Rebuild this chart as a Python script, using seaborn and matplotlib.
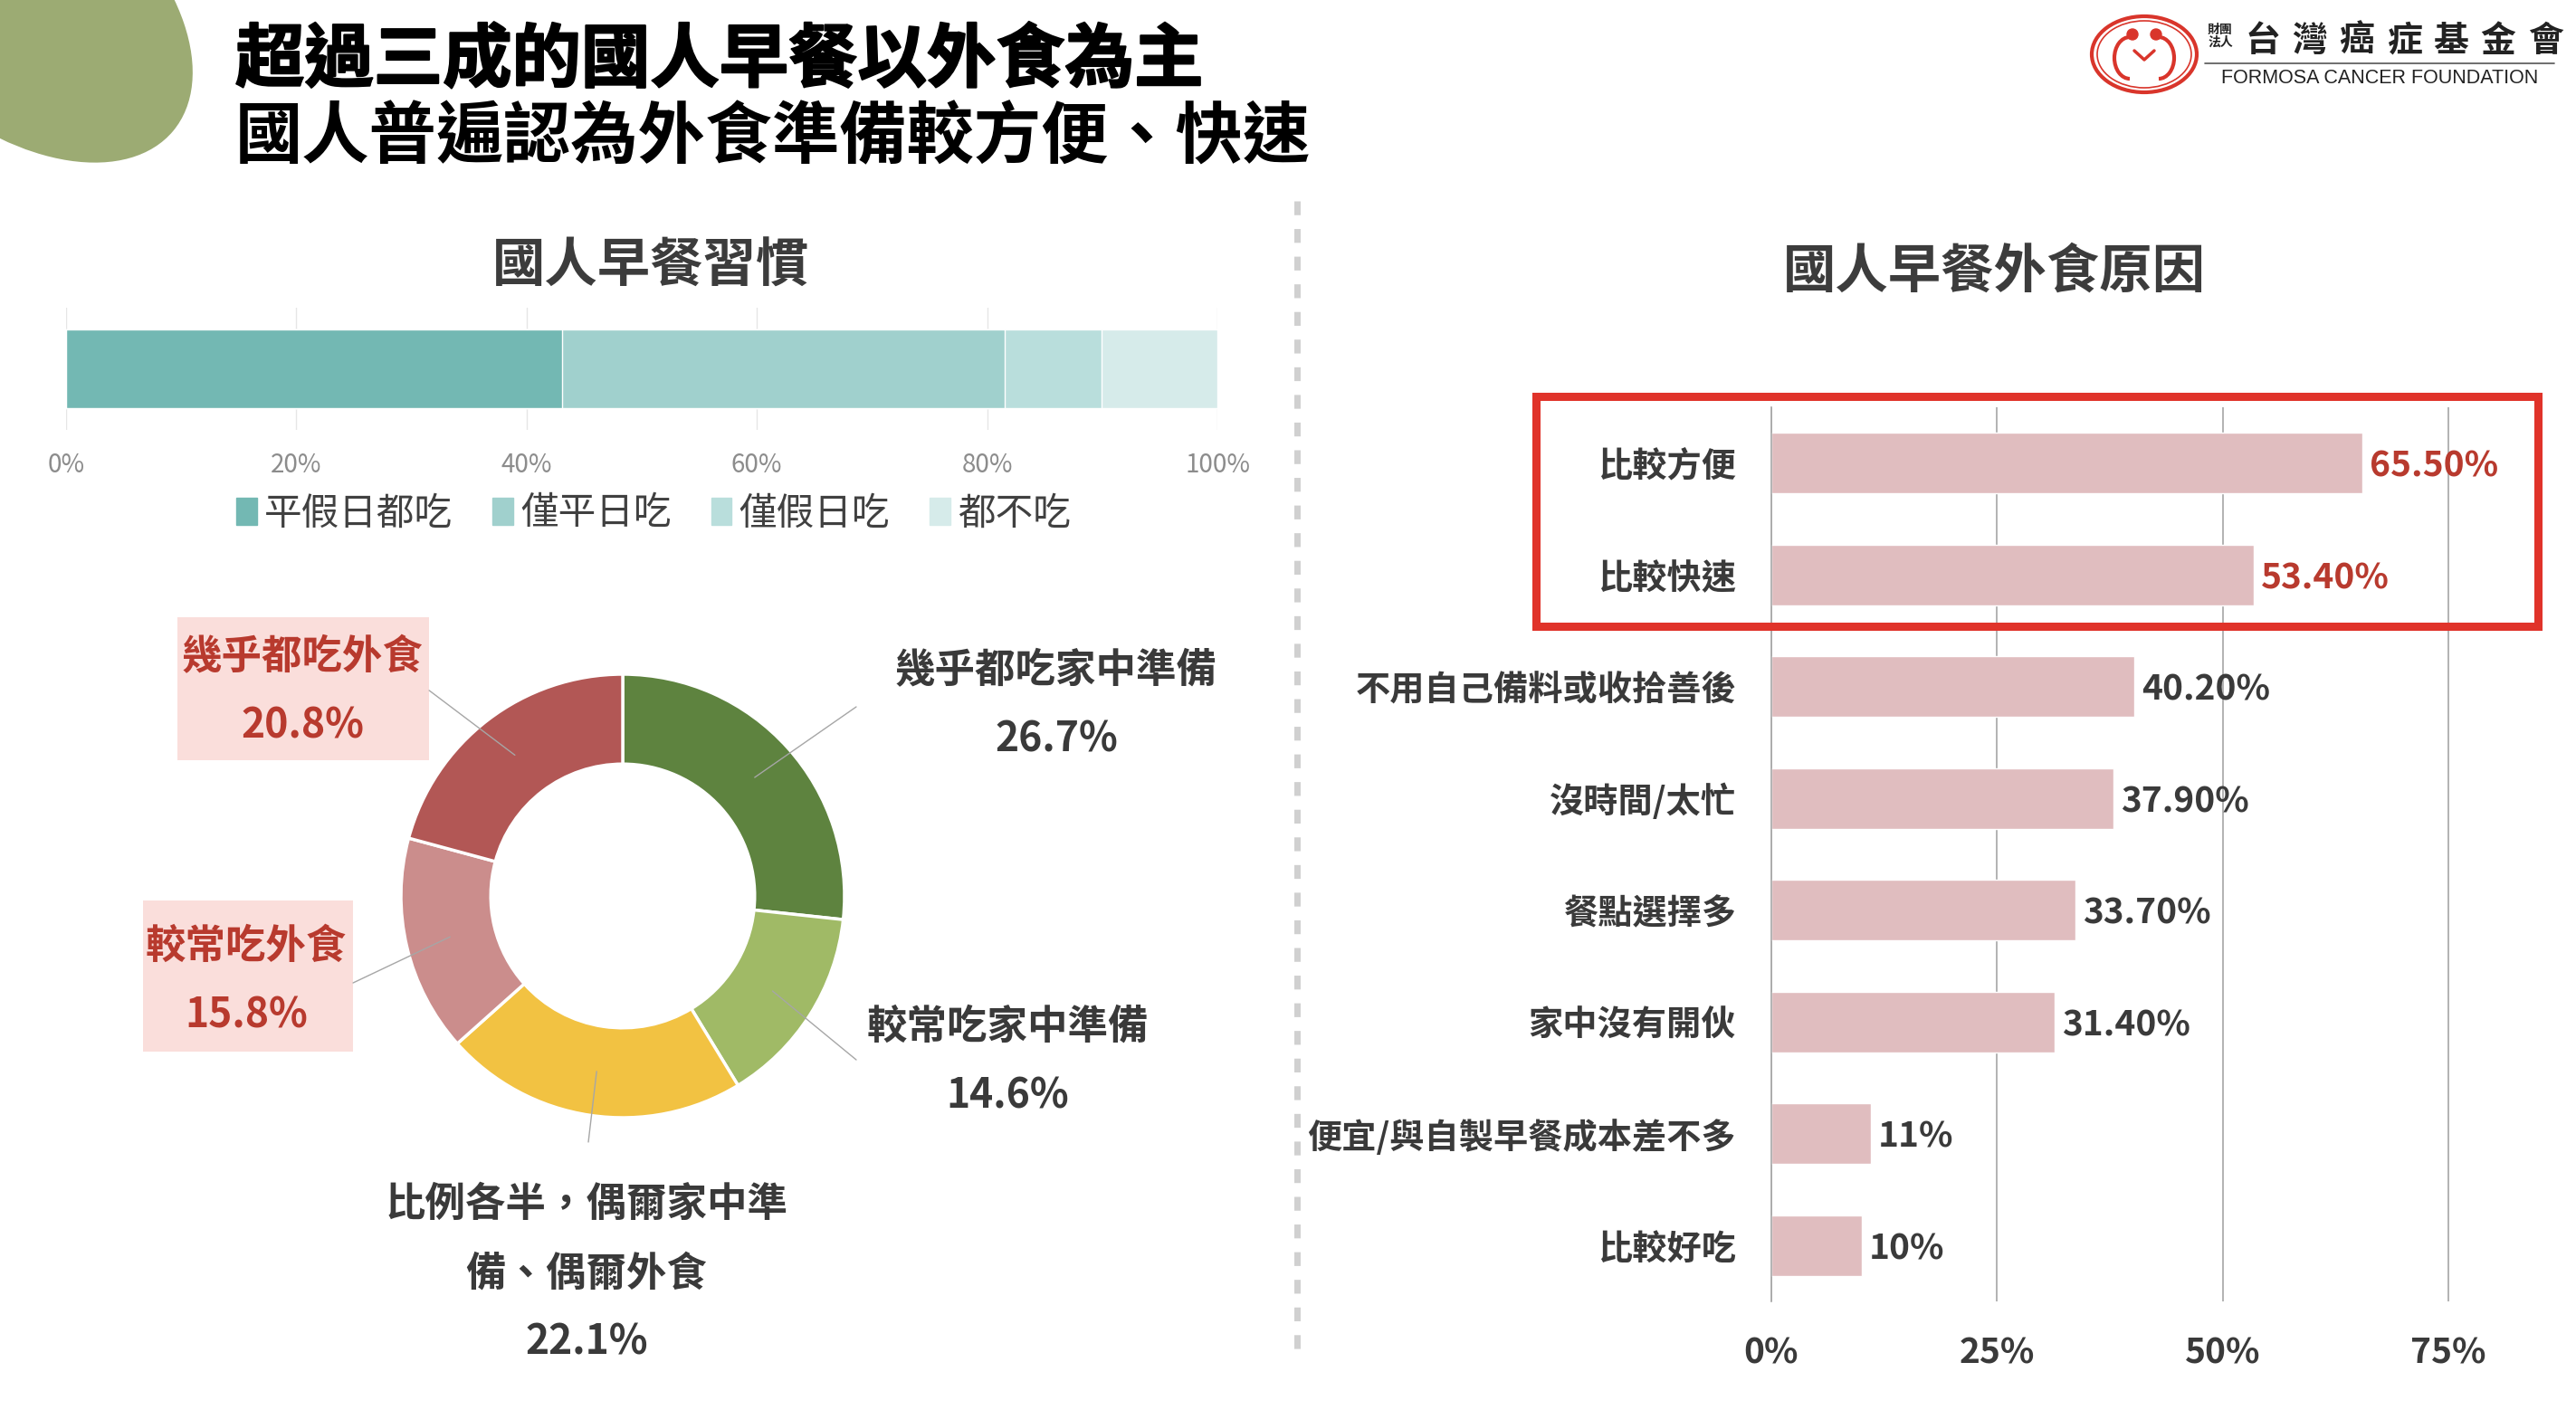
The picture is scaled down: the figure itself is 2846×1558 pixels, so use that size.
import numpy as np
import matplotlib
matplotlib.use("Agg")
import matplotlib.pyplot as plt
import matplotlib.patheffects as pe
import seaborn as sns
from matplotlib.patches import Ellipse, Rectangle, Patch, Arc, Circle

sns.set_theme(style="white")
plt.rcParams['font.family'] = ['Noto Sans CJK TC', 'DejaVu Sans']

# ---- data ----
habit_labels = ['平假日都吃', '僅平日吃', '僅假日吃', '都不吃']
habit_values = [43.1, 38.4, 8.4, 10.1]
habit_colors = ['#73B8B3', '#A0D0CD', '#B9DEDC', '#D6EBEA']

donut_labels = [['幾乎都吃家中準備'], ['較常吃家中準備'], ['比例各半，偶爾家中準', '備、偶爾外食'],
                ['較常吃外食'], ['幾乎都吃外食']]
donut_values = [26.7, 14.6, 22.1, 15.8, 20.8]
donut_pct = ['26.7%', '14.6%', '22.1%', '15.8%', '20.8%']
donut_colors = ['#5E833F', '#A0BA66', '#F2C242', '#CB8D8C', '#B25755']

reasons = ['比較方便', '比較快速', '不用自己備料或收拾善後', '沒時間/太忙', '餐點選擇多',
           '家中沒有開伙', '便宜/與自製早餐成本差不多', '比較好吃']
reason_values = [65.5, 53.4, 40.2, 37.9, 33.7, 31.4, 11, 10]
reason_text = ['65.50%', '53.40%', '40.20%', '37.90%', '33.70%', '31.40%', '11%', '10%']

W, H = 2846, 1558
DARK = '#3A3A3A'
RED = '#B83A2E'
LOGO_RED = '#D9352B'

fig = plt.figure(figsize=(W / 100, H / 100), dpi=100)
fig.patch.set_facecolor('white')


def rect(x0, y0, x1, y1):
    # pixel box (top-left origin) -> figure fraction
    return [x0 / W, 1 - y1 / H, (x1 - x0) / W, (y1 - y0) / H]


# background layer in pixel coords
bg = fig.add_axes([0, 0, 1, 1])
bg.set_xlim(0, W)
bg.set_ylim(H, 0)
bg.axis('off')
bg.add_patch(Ellipse((15, -3), 460, 280, angle=40, color='#9CAB73', lw=0))
bg.plot([1433, 1433], [222, 1505], color='#D0D0D0', lw=5, dashes=(2.2, 2.2))

bg.text(260, 67, '超過三成的國人早餐以外食為主', fontsize=55, fontweight='heavy',
        color='black', va='center', ha='left',
        path_effects=[pe.withStroke(linewidth=1.5, foreground='black')])
bg.text(260, 152, '國人普遍認為外食準備較方便、快速', fontsize=53.5, fontweight='bold',
        color='black', va='center', ha='left')
bg.text(719, 295, '國人早餐習慣', fontsize=42, fontweight='bold', color='#3C3C3C',
        ha='center', va='center')
bg.text(2203, 301, '國人早餐外食原因', fontsize=42, fontweight='bold', color='#3C3C3C',
        ha='center', va='center')

# logo
bg.add_patch(Ellipse((2369, 60), 116, 84, fill=False, ec=LOGO_RED, lw=3))
bg.add_patch(Ellipse((2369, 60), 104, 74, fill=False, ec=LOGO_RED, lw=1.2))
bg.add_patch(Arc((2353, 64), 34, 46, theta1=90, theta2=270, ec=LOGO_RED, lw=3))
bg.add_patch(Arc((2385, 64), 34, 46, theta1=-90, theta2=90, ec=LOGO_RED, lw=3))
bg.add_patch(Circle((2356, 38), 6, color=LOGO_RED))
bg.add_patch(Circle((2382, 38), 6, color=LOGO_RED))
bg.plot([2358, 2369, 2380], [56, 66, 56], color=LOGO_RED, lw=2.5)
bg.text(2453, 40, '財團\n法人', fontsize=10, fontweight='bold', color='#222222',
        ha='center', va='center', linespacing=0.95)
for i, ch in enumerate('台灣癌症基金會'):
    bg.text(2500 + i * 52, 45, ch, fontsize=28, fontweight='bold', color='#222222',
            ha='center', va='center')
bg.plot([2436, 2822], [70, 70], color='#555555', lw=1.2)
bg.text(2629, 86, 'FORMOSA CANCER FOUNDATION', fontsize=15.5, color='#222222',
        ha='center', va='center', family='Liberation Sans')

# ---- stacked habit bar ----
ax1 = fig.add_axes(rect(73, 340, 1345, 475))
cum = np.cumsum(habit_values)
for c, col in zip(cum[::-1], habit_colors[::-1]):
    sns.barplot(x=[c], y=['habit'], orient='h', color=col, width=0.644,
                saturation=1, ax=ax1)
ax1.set_xlim(0, 100)
ax1.set_xticks([0, 20, 40, 60, 80, 100])
ax1.set_xticklabels([f'{t}%' for t in [0, 20, 40, 60, 80, 100]], fontsize=20, color='#8C8C8C')
ax1.tick_params(axis='x', length=0, pad=17)
ax1.set_yticks([])
ax1.set_ylabel('')
ax1.set_xlabel('')
ax1.grid(axis='x', color='#E6E6E6', lw=1)
ax1.set_axisbelow(True)
for s in ax1.spines.values():
    s.set_visible(False)
ax1.set_facecolor('none')
handles = [Patch(color=c) for c in habit_colors]
fig.legend(handles, habit_labels, loc='center', bbox_to_anchor=(722 / W, 1 - 568 / H),
           ncol=4, frameon=False, fontsize=30, handlelength=0.55, handleheight=0.7,
           handletextpad=0.2, columnspacing=1.05, labelcolor='#404040')

# ---- donut ----
R = 245
cx, cy = 688, 990
ax2 = fig.add_axes(rect(cx - 2.6 * R, cy - 2.6 * R, cx + 2.6 * R, cy + 2.6 * R))
ax2.pie(donut_values, colors=donut_colors, startangle=90, counterclock=False,
        wedgeprops=dict(width=0.405, edgecolor='white', linewidth=2.5))
ax2.set_xlim(-2.6, 2.6)
ax2.set_ylim(-2.6, 2.6)
ax2.set_facecolor('none')

label_pos = [(1.955, 1.016), (1.734, -0.592), (-0.163, -1.392), (-1.698, -0.229), (-1.445, 1.078)]
line_end = [(1.053, 0.853), (1.053, -0.739), (-0.155, -1.11), (-1.216, -0.392), (-0.873, 0.927)]
box_pos = [None, None, None, (-2.163, -0.702, -1.216, -0.02), (-2.008, 0.612, -0.873, 1.257)]
red_lab = [False, False, False, True, True]
step = 0.312
start = 0
for i, v in enumerate(donut_values):
    mid = 90 - (start + v / 2) / sum(donut_values) * 360
    start += v
    px, py = 0.8 * np.cos(np.radians(mid)), 0.8 * np.sin(np.radians(mid))
    ax2.plot([px, line_end[i][0]], [py, line_end[i][1]], color='#A6A6A6', lw=1, clip_on=False)
    col = RED if red_lab[i] else DARK
    if box_pos[i] is not None:
        x0, y0, x1, y1 = box_pos[i]
        ax2.add_patch(Rectangle((x0, y0), x1 - x0, y1 - y0, color='#FADEDB', lw=0,
                                zorder=1, clip_on=False))
    lx, ly = label_pos[i]
    lines = donut_labels[i] + [donut_pct[i]]
    for k, t in enumerate(lines):
        ax2.text(lx, ly - k * step, t, fontsize=32, fontweight='bold', color=col,
                 ha='center', va='center', zorder=3, clip_on=False)

# ---- reasons bar chart ----
ax3 = fig.add_axes(rect(1957, 450, 1957 + 778, 1438))
sns.barplot(x=reason_values, y=reasons, orient='h', color='#E0BDBF', width=0.54,
            saturation=1, ax=ax3)
ax3.set_xlim(0, 78)
ax3.set_ylim(7.5, -0.5)
ax3.set_xticks([0, 25, 50, 75])
ax3.set_xticklabels(['0%', '25%', '50%', '75%'], fontsize=28, fontweight='bold', color=DARK)
ax3.tick_params(axis='x', length=0, pad=27)
ax3.tick_params(axis='y', which='major', length=0, pad=28, labelsize=27.5, labelcolor=DARK)
for t in ax3.get_yticklabels():
    t.set_fontweight('bold')
ax3.set_yticks(np.arange(-0.5, len(reasons)), minor=True)
ax3.tick_params(axis='y', which='minor', length=8.5, width=1.2, color='#A0A0A0', direction='out')
ax3.grid(axis='x', color='#A6A6A6', lw=1.2)
ax3.set_axisbelow(True)
ax3.set_xlabel('')
ax3.set_ylabel('')
for s in ['top', 'right', 'bottom']:
    ax3.spines[s].set_visible(False)
ax3.spines['left'].set_color('#A6A6A6')
ax3.spines['left'].set_linewidth(1.2)
ax3.set_facecolor('none')
for i, (v, t) in enumerate(zip(reason_values, reason_text)):
    ax3.text(v + 0.8, i + 0.03, t, fontsize=28, fontweight='bold', color=RED if i < 2 else DARK,
             ha='left', va='center', clip_on=False)
ax3.add_patch(Rectangle((-0.334, 0.755), 1.4227, 0.2576, transform=ax3.transAxes,
                        fill=False, ec='#E0332A', lw=6.5, clip_on=False, zorder=5))

fig.savefig('out.png', dpi=100)
